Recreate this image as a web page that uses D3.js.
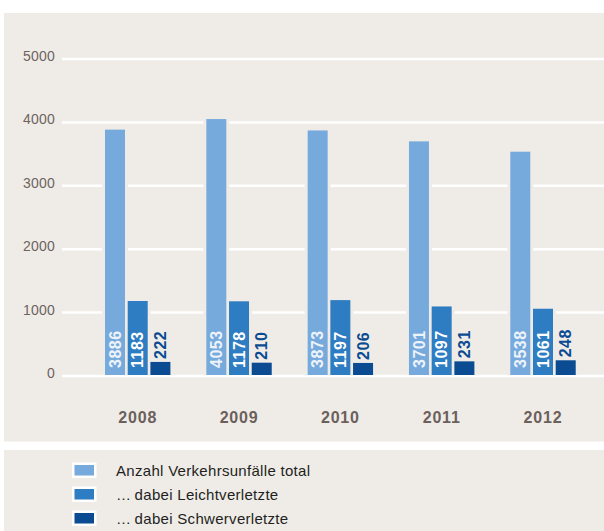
<!DOCTYPE html>
<html>
<head>
<meta charset="utf-8">
<script src="https://cdn.jsdelivr.net/npm/d3@7"></script>
<style>
  html, body { margin: 0; padding: 0; background: #ffffff; }
  svg { display: block; }
  text { font-family: "Liberation Sans", Arial, Helvetica, sans-serif; }
</style>
</head>
<body>
<svg id="chart" width="604" height="531"></svg>
<script>
// Verkehrsunfälle 2008–2012
const years = ["2008", "2009", "2010", "2011", "2012"];
const seriesNames = [
  "Anzahl Verkehrsunfälle total",
  "\u2026\u2009dabei Leichtverletzte",
  "\u2026\u2009dabei Schwerverletzte"
];
const totalAccidents = [3886, 4053, 3873, 3701, 3538];
const lightlyInjured = [1183, 1178, 1197, 1097, 1061];
const seriouslyInjured = [222, 210, 206, 231, 248];
const yTicks = [0, 1000, 2000, 3000, 4000, 5000];

const seriesValues = [totalAccidents, lightlyInjured, seriouslyInjured];
const colors = ["#77aadc", "#2e7cc1", "#0a4b92"];
const labelColors = ["#eef3fa", "#ffffff", "#0a4b92"];
const bg = "#efece8";

const svg = d3.select("#chart");

// panels
svg.append("rect").attr("x", 4).attr("y", 13).attr("width", 600).attr("height", 428.5).attr("fill", bg);
svg.append("rect").attr("x", 4).attr("y", 450).attr("width", 600).attr("height", 81).attr("fill", bg);

const y = d3.scaleLinear().domain([0, 5000]).range([376, 59]);
const x = d3.scalePoint().domain(years).range([137.7, 543]);
const xs = d3.scaleBand().domain(d3.range(3)).range([-32.7, 32.7]).paddingInner(0.119).paddingOuter(0);

// gridlines + tick labels
const grid = svg.append("g");
grid.selectAll("line").data(yTicks).join("line")
  .attr("x1", 62).attr("x2", 604)
  .attr("y1", d => y(d)).attr("y2", d => y(d))
  .attr("stroke", "#ffffff").attr("stroke-width", 2.5);
grid.selectAll("text").data(yTicks).join("text")
  .attr("x", 55).attr("y", d => y(d) + 2)
  .attr("text-anchor", "end")
  .attr("font-size", 14).attr("letter-spacing", 0.2)
  .attr("fill", "#6e6360")
  .text(d => d);

// bar data
const bars = [];
years.forEach((yr, i) => {
  seriesValues.forEach((vals, s) => bars.push({ year: yr, s, v: vals[i] }));
});

const g = svg.append("g");
// background halo that interrupts the gridlines around each bar
g.selectAll("rect.halo").data(bars).join("rect")
  .attr("class", "halo")
  .attr("x", d => x(d.year) + xs(d.s) - 3)
  .attr("width", xs.bandwidth() + 6)
  .attr("y", d => y(d.v) - 3)
  .attr("height", d => y(0) - y(d.v) + 2)
  .attr("fill", bg);
g.selectAll("rect.bar").data(bars).join("rect")
  .attr("class", "bar")
  .attr("x", d => x(d.year) + xs(d.s))
  .attr("width", xs.bandwidth())
  .attr("y", d => y(d.v))
  .attr("height", d => y(0) - 1 - y(d.v))
  .attr("fill", d => colors[d.s]);

// rotated value labels
g.selectAll("text.val").data(bars).join("text")
  .attr("class", "val")
  .attr("transform", d => {
    const cx = x(d.year) + xs(d.s) + xs.bandwidth() / 2;
    const yy = d.s < 2 ? 368 : y(d.v) - 3;
    return `translate(${cx},${yy}) rotate(-90)`;
  })
  .attr("dy", "0.36em")
  .attr("text-anchor", "start")
  .attr("font-size", 16).attr("font-weight", "bold").attr("letter-spacing", 0.5)
  .attr("fill", d => labelColors[d.s])
  .text(d => d.v);

// year labels
svg.append("g").selectAll("text").data(years).join("text")
  .attr("x", d => x(d)).attr("y", 422.5)
  .attr("text-anchor", "middle")
  .attr("font-size", 16).attr("font-weight", "bold").attr("letter-spacing", 0.8)
  .attr("fill", "#6b605b")
  .text(d => d);

// legend
const leg = svg.append("g").selectAll("g").data(seriesNames).join("g")
  .attr("transform", (d, i) => `translate(72,${462.5 + i * 24})`);
leg.append("rect").attr("width", 24.5).attr("height", 15.5).attr("fill", "#ffffff");
leg.append("rect").attr("x", 2.5).attr("y", 2.5).attr("width", 19.5).attr("height", 10.5)
  .attr("fill", (d, i) => colors[i]);
leg.append("text").attr("x", 44).attr("y", 13)
  .attr("font-size", 15).attr("letter-spacing", 0.3).attr("fill", "#231f20")
  .text(d => d);
</script>
</body>
</html>
